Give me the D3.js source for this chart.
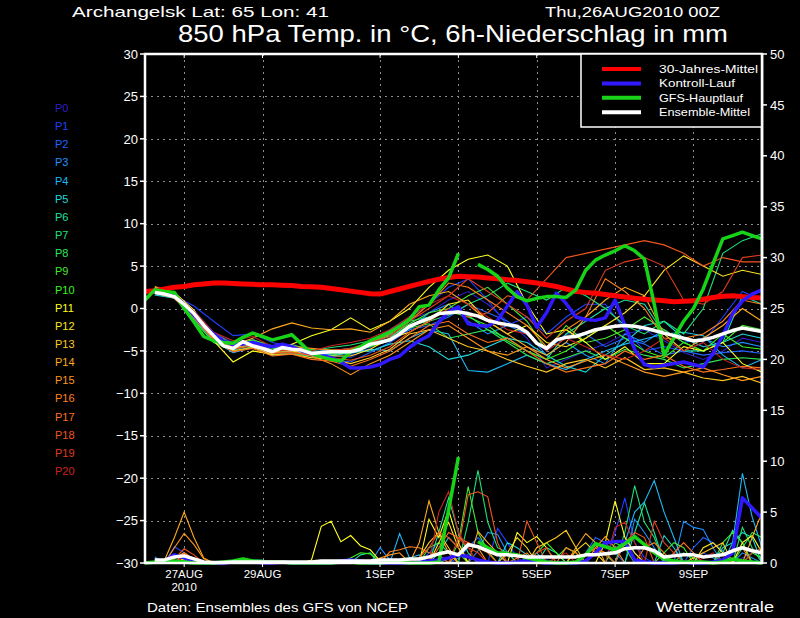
<!DOCTYPE html>
<html>
<head>
<meta charset="utf-8">
<script src="https://cdn.jsdelivr.net/npm/d3@7"></script>
<style>
body { margin: 0; background: #000; }
svg { display: block; background: #000; font-family: "Liberation Sans", Arial, sans-serif; }
</style>
</head>
<body>
<div id="chart"></div>
<script>
// forecast hours after 26AUG2010 00Z
var hoursOp = d3.range(0, 379, 6),   // 0..378 every 6h
    hours6 = d3.range(6, 379, 6),    // 6..378 every 6h
    hours12 = d3.range(6, 379, 12);  // 6..378 every 12h

var tickHours = [24, 72, 144, 192, 240, 288, 336],
    tickLabels = ["27AUG", "29AUG", "1SEP", "3SEP", "5SEP", "7SEP", "9SEP"];
var tempTicks = [30, 25, 20, 15, 10, 5, 0, -5, -10, -15, -20, -25, -30],
    rainTicks = [50, 45, 40, 35, 30, 25, 20, 15, 10, 5, 0];

// 30-Jahres-Mittel (from 0h, 6h steps)
var climTemp = [2.0,2.1,2.3,2.5, 2.6,2.8,2.9,3.0, 3.0,2.95,2.9,2.85, 2.8,2.8,2.75,2.7,
  2.6,2.55,2.5,2.35, 2.2,2.05,1.9,1.75, 1.7,2.0,2.3,2.6, 2.9,3.2,3.45,3.65,
  3.8,3.75,3.7,3.6, 3.5,3.4,3.3,3.15, 3.0,2.8,2.6,2.3, 2.0,1.9,1.8,1.65,
  1.5,1.35,1.2,1.1, 1.0,0.9,0.8,0.85, 0.9,1.1,1.3,1.45, 1.5,1.4,1.3,1.25];

// GFS-Hauptlauf (from 0h, 6h steps)
var gfsTemp = [1.0,2.2,2.0,1.9, 0.0,-1.6,-3.3,-3.8, -4.0,-4.1,-3.4,-2.9, -3.3,-3.7,-3.4,-3.1,
  -4.2,-5.3,-5.7,-6.0, -6.2,-5.1,-4.5,-3.8, -3.3,-2.8,-2.1,-1.3, 0.2,0.4,2.2,3.6,
  6.5,null,5.2,4.6, 3.8,2.4,1.4,0.9, 1.2,1.4,1.4,1.3, 2.2,4.5,5.7,6.3,
  6.8,7.4,6.8,5.8, 0.5,-5.5,-3.5,-1.5, 0.0,2.3,5.3,8.2, 8.6,9.0,8.6,8.2];
var gfsRain = [0,0.1,0.2,0.2, 0.1,0,0,0, 0.1,0.2,0.4,0.2, 0.1,0.1,0.1,0,
  0,0,0,0, 0.1,0.1,0,0, 0,0.1,0.1,0, 0,0,0.1,5.2,
  10.4,null,2.1,1.5, 1.0,0.9,0.8,0.5, 0.3,0.1,0,0, 0.1,0.8,1.9,1.6,
  1.3,1.9,2.6,1.8, 1.0,0.4,0.2,0.1, 0.1,0.1,0,0.1, 0.4,0.2,0.1,0];

// Kontroll-Lauf (from 6h, 6h steps)
var ctrlTemp = [2.0,1.8,1.5,0.5, -0.8,-2.0,-3.0,-3.8, -4.3,-4.2,-4.0,-4.3, -4.5,-4.2,-4.5,-5.0,
  -5.3,-5.5,-5.8,-6.3, -7.0,-7.0,-6.9,-6.6, -6.0,-5.6,-4.6,-3.8, -3.2,-1.6,-0.4,0.2,
  -1.8,-2.0,-2.1,-1.4, 0.3,2.0,0.4,-2.2, -0.5,1.8,0.6,-1.0, -1.3,-1.4,-1.1,1.0,
  -2.0,-4.8,-6.6,-6.9, -6.7,-6.5,-6.3,-6.6, -6.9,-5.3,-3.2,-0.6, 0.9,1.7,2.2];
var ctrlRain = [0.1,0.2,0.8,0.5, 0.1,0,0,0, 0.1,0.2,0.1,0, 0,0.1,0,0,
  0,0,0,0.2, 0.3,0.2,0,0, 0,0,0,0.1, 0.2,0.3,0.5,0.8,
  0.6,0.3,0.1,0, 0,0.1,0.2,0.1, 0,0,0,0, 0.2,1.0,2.0,2.1,
  2.1,0.3,0.1,0, 0,0,0.1,0, 0,0.1,0.3,1.0, 6.4,5.4,4.4];

// Ensemble-Mittel (from 6h, 6h steps)
var meanTemp = [1.9,1.7,1.4,0.5, -0.6,-2.0,-3.2,-4.4, -4.7,-3.9,-4.4,-4.7, -5.1,-4.6,-4.8,-4.9,
  -5.3,-5.2,-5.1,-5.1, -5.1,-4.8,-4.2,-4.0, -3.7,-3.0,-2.1,-1.6, -1.2,-0.6,-0.5,-0.4,
  -0.6,-0.9,-1.4,-1.7, -1.9,-2.1,-2.8,-4.1, -4.7,-3.7,-3.4,-3.3, -2.9,-2.5,-2.3,-2.1,
  -2.0,-2.1,-2.3,-2.6, -2.9,-3.2,-3.5,-3.8, -3.7,-3.4,-3.0,-2.6, -2.3,-2.5,-2.7];
var meanRain = [0.3,0.3,0.6,0.7, 0.4,0.1,0.05,0.05, 0.1,0.1,0.1,0.1, 0.1,0.1,0.1,0.1,
  0.1,0.2,0.2,0.2, 0.2,0.2,0.2,0.3, 0.3,0.3,0.4,0.4, 0.6,0.9,1.1,0.8,
  1.8,1.6,1.2,0.8, 0.8,0.7,0.6,0.6, 0.6,0.6,0.6,0.6, 0.8,0.8,0.9,1.0,
  1.4,1.5,1.5,1.2, 0.6,0.7,0.8,0.8, 0.6,0.7,0.8,1.2, 1.5,1.2,1.0];

// ensemble members: temperature every 12h from 6h
var tP0 = [2.2,1.8,-0.2,-2.8,-4.0,-3.6,-4.6,-4.2,-5.0,-5.5,-5.8,-4.6,-3.0,-1.2,-0.5,1.0,
  2.0,0.5,-1.5,-3.5,-7.0,-6.0,-5.0,-4.2,-3.0,-2.5,-3.8,-5.2,-6.0,-5.0,-3.5,-4.0];
var tP1 = [2.0,1.5,0.3,-1.5,-3.2,-3.0,-4.0,-4.5,-5.5,-5.0,-5.5,-4.0,-2.5,-1.0,0.5,2.5,
  3.5,1.0,-2.0,-1.0,-3.0,-1.0,0.5,0.5,-2.5,-5.0,-4.5,-5.0,-4.0,-1.0,2.0,1.0];
var tP2 = [1.8,1.2,-0.8,-3.5,-4.8,-4.3,-5.3,-5.0,-5.5,-6.0,-6.3,-5.2,-4.0,-2.5,-2.0,-1.0,
  0.5,-0.5,-1.5,-3.0,-5.0,-3.0,-3.0,-4.5,-3.5,-4.2,-5.5,-5.0,-5.5,-5.2,-5.0,-5.3];
var tP3 = [2.4,1.7,-0.5,-3.0,-4.4,-3.8,-4.6,-4.6,-4.8,-5.0,-4.7,-4.5,-3.0,-2.5,-0.5,0.5,
  -1.5,-3.0,-2.0,-3.0,-5.5,-4.0,-5.5,-6.5,-3.0,-4.0,-2.5,-4.0,-3.5,-4.5,-4.0,-4.5];
var tP4 = [1.7,1.3,-1.2,-3.8,-5.2,-4.6,-5.5,-5.3,-5.6,-5.4,-5.2,-4.8,-5.0,-3.5,-2.5,-3.0,
  -7.3,-7.5,-6.5,-5.5,-6.5,-7.2,-6.0,-5.0,-4.2,-3.6,-3.0,-2.8,-3.2,-5.5,-7.0,-6.0];
var tP5 = [1.6,1.2,-0.9,-3.6,-4.9,-4.2,-5.0,-5.0,-5.3,-5.6,-5.2,-5.0,-4.2,-3.8,-4.5,-6.0,
  -5.5,-4.5,-3.5,-4.0,-5.5,-6.8,-7.5,-5.5,-4.0,-2.0,-1.5,-3.5,-4.5,-4.0,-3.0,-3.5];
var tP6 = [2.1,1.5,-0.4,-3.1,-4.6,-4.0,-4.9,-4.7,-5.4,-5.0,-4.8,-4.2,-3.5,-1.5,-1.0,-0.5,
  -0.8,-2.5,-3.5,-5.0,-6.0,-3.0,-1.5,0.0,1.0,0.5,-3.0,-5.0,-5.0,-4.0,1.5,0.5];
var tP7 = [2.3,1.6,-0.6,-3.3,-4.5,-4.2,-5.1,-4.8,-5.0,-4.6,-4.3,-3.8,-3.3,-2.0,-1.5,-0.8,
  0.5,1.5,3.0,2.0,1.0,2.5,1.5,0.0,-2.0,-3.0,-1.5,-3.0,0.0,6.5,8.0,8.8];
var tP8 = [2.0,1.3,-1.4,-4.0,-5.0,-4.5,-5.5,-5.2,-5.8,-5.5,-5.1,-4.5,-3.8,-2.3,-1.8,-3.5,
  -3.0,-2.5,-4.0,-5.5,-6.5,-5.8,-5.0,-6.0,-4.8,-5.5,-6.0,-7.0,-6.5,-6.0,-5.8,-6.0];
var tP9 = [1.9,1.4,-0.7,-3.4,-4.3,-3.9,-4.7,-4.9,-5.1,-5.3,-4.9,-4.1,-3.2,-1.8,-0.5,0.0,
  1.5,2.5,0.5,-1.5,-5.0,-2.0,-4.0,-3.5,-2.5,-1.0,-2.5,-4.0,-5.0,-4.0,-2.0,-2.5];
var tP10 = [2.2,1.6,-0.3,-2.9,-4.2,-3.7,-4.4,-4.3,-4.8,-4.9,-5.0,-4.4,-3.7,-2.2,-1.0,-0.3,
  -1.0,-2.0,-3.8,-5.0,-6.0,-5.0,-3.5,-2.0,-3.5,-5.0,-5.8,-4.0,-5.0,-3.0,-4.5,-4.8];
var tP11 = [2.5,1.9,-0.2,-3.8,-6.3,-5.0,-5.4,-4.2,-3.2,-2.5,-1.1,-2.5,-1.5,0.0,2.5,4.5,
  5.8,6.3,5.0,0.5,-3.0,-2.5,-4.0,-6.0,-4.5,-6.5,-6.5,-4.5,-5.0,-4.0,-6.5,-7.5];
var tP12 = [2.0,1.5,-0.8,-3.4,-4.6,-4.1,-5.0,-5.0,-5.4,-5.6,-5.6,-4.8,-3.5,-2.8,-1.5,0.5,
  1.0,-1.5,-3.0,-2.0,-4.0,-4.5,-3.5,-2.0,-0.5,1.5,4.5,6.2,5.0,3.8,4.5,4.0];
var tP13 = [1.8,1.3,-1.0,-3.6,-5.0,-4.6,-5.4,-5.4,-5.8,-6.0,-6.5,-5.8,-4.8,-3.0,-2.5,-3.5,
  -4.5,-5.0,-6.0,-6.8,-7.5,-6.5,-6.0,-7.0,-5.8,-7.2,-7.0,-7.5,-8.2,-8.5,-8.0,-8.8];
var tP14 = [2.6,1.8,-0.5,-3.0,-4.3,-3.5,-2.4,-1.7,-2.3,-2.5,-2.4,-2.8,-1.5,0.5,1.5,2.0,
  0.5,-1.5,-3.0,-4.5,-5.5,-4.0,-1.0,1.0,2.5,1.5,-3.0,-5.0,-3.5,-2.0,0.0,-1.5];
var tP15 = [2.1,1.5,-0.7,-3.3,-4.7,-4.2,-5.2,-5.1,-5.6,-6.5,-7.8,-6.5,-5.5,-4.0,-2.5,-2.0,
  -3.5,-5.0,-5.5,-4.5,-6.0,-7.0,-6.2,-5.5,-6.5,-7.5,-8.0,-7.5,-7.0,-7.8,-8.5,-8.0];
var tP16 = [2.3,1.7,-0.4,-3.1,-4.4,-4.0,-5.0,-4.5,-4.7,-4.9,-4.8,-4.0,-3.0,-1.5,0.5,3.0,
  2.5,1.0,-0.5,-2.0,-4.5,-2.5,-1.0,3.5,2.0,0.0,-3.5,-3.5,-3.0,-1.5,1.0,0.5];
var tP17 = [1.9,1.2,-1.1,-3.7,-5.1,-4.7,-5.6,-5.4,-6.0,-6.2,-6.8,-6.0,-5.0,-3.5,-2.0,-1.5,
  -3.0,-4.0,-3.5,-5.0,-6.5,-7.5,-7.0,-6.5,-5.0,-6.0,-5.5,-6.8,-7.5,-7.2,-6.8,-7.0];
var tP18 = [2.0,1.4,-0.9,-3.5,-4.8,-4.4,-5.3,-5.2,-5.5,-5.8,-6.1,-5.5,-4.5,-2.8,-1.5,0.0,
  -1.0,-0.5,1.5,1.0,3.5,6.0,6.5,7.0,7.5,8.0,7.5,6.5,5.0,6.0,5.5,5.5];
var tP19 = [2.2,1.6,-0.6,-3.2,-4.5,-4.1,-5.0,-4.9,-5.2,-5.0,-4.7,-4.0,-3.3,-1.5,0.0,1.5,
  3.5,2.0,0.5,-1.0,-3.5,-1.5,0.0,4.5,5.5,6.0,5.0,1.0,0.5,2.0,6.0,6.3];
var tP20 = [2.4,1.7,-0.3,-2.8,-3.8,-3.3,-4.5,-4.5,-5.0,-4.4,-4.0,-3.5,-2.5,-1.0,0.5,1.5,
  0.5,-1.0,-2.5,-3.0,-5.0,-3.5,-4.5,-5.5,-6.0,-5.0,-3.5,-5.0,-4.0,-6.0,-7.0,-7.2];

// ensemble members: 6h precipitation from 6h
var rP0 = [0.2,0,0.5,0.8,0.3,0,0,0,0,0,0,0,0,0,0,0,
  0,0,0,0,0,0,0,0,0,0,0,0,0,0,0.5,1.0,
  0.8,0,0,0,0,0,0,0,0.3,0,0,0,0,0,0,1.5,
  2.0,1.0,0,0,0,0,0,0,0,0,0,0,0.5,1.0,0.5];
var rP1 = [0.5,0,1.6,1.0,0.2,0,0,0,0,0,0,0,0,0,0,0,
  0,0,0,0,0,0,0,0,0,0,0,0,1.0,2.0,1.0,0,
  0,0,0,3.4,2.0,0.5,0,0,0,0,0,0,0,0,0,3.0,
  6.4,2.0,0.5,0,0,0,0,0,1.0,0.5,0,0,0,0,0];
var rP2 = [0,0.2,0,0.5,0,0,0,0,0,0,0,0,0,0,0,0,
  0,0,0,0,0,0.3,0.2,0,0,0,0,0,0,0,0,0.5,
  1.5,2.5,1.5,0.8,0,0,0,0,0,0,0,0,1.0,2.5,2.0,1.0,
  0,0,0,0,0,0,0,1.5,2.5,2.0,1.2,0,0,0,0];
var rP3 = [0.6,0,0,0.8,0,0,0,0,0,0,0,0,0,0,0,0,
  0,0,0,0,0,0,0,1.5,0.3,0,0,0,0,0,0,0,
  0,1.2,3.0,2.8,1.0,0,0,0,0,0,0,0,0,0,0,0,
  0,4.3,3.0,1.5,0,0,4.1,3.5,3.3,1.5,0,0,1.0,0.5,0];
var rP4 = [0,0,0,0.6,0,0,0,0,0,0,0,0,0,0,0,0,
  0,0,0,0,0,0,0,0,0,2.9,0.5,0.8,0,0,0,0,
  0,0,0,0,0,0,0.5,1.0,0,0,0,0,0,0,0,0,
  2.0,5.0,6.0,8.1,5.0,2.5,0,0,0,0,0,2.0,8.8,4.5,1.5];
var rP5 = [0.4,0,0,0.4,0,0,0,0,0,0,0,0,0,0,0,0,
  0,0,0,0,0,0,0,0,0,0,0,0,0,1.0,2.5,1.5,
  0,0,0,0,2.0,1.5,0.8,0,0,0,0,0,0,0,0,0,
  0,0,0,0,2.7,1.5,0,0,0,0,1.5,2.0,3.0,2.5,0];
var rP6 = [0,0,0,0.3,0,0,0,0,0,0,0,0,0,0,0,0,
  0,0,0,0,0,0.8,1.0,0,0,0,0,0,0,3.0,6.4,3.0,
  1.0,0,0,0,0,0,0,0,1.5,1.0,0,0,0,0,0,0,
  0,3.0,5.9,3.0,0,0,0,0,0,0,1.0,3.2,2.0,0,0];
var rP7 = [0,0,0,0,0,0,0,0,0,0.2,0.3,0.3,0,0,0,0,
  0,0,0,0,0,0,0,0,0,0,0,0,0,0,0,0,
  4.0,9.1,4.0,1.5,1.0,0,0,0,0,0,0,0,0,0,0,0,
  3.0,7.6,4.0,2.5,0,0,0,0,0,0,0,0,3.5,1.5,0];
var rP8 = [0,0,0,0.3,0,0,0,0,0,0,0,0,0.2,0,0,0,
  0,0,0,0,0,0,0,0,0,0,0,0,1.5,2.0,1.0,0,
  0,0,0,0,0,0,0,0,0,0.5,1.5,1.0,0,0,0,0,
  0,0,0,0,0,0,1.0,0.5,0,0,0,0,1.5,3.0,2.5];
var rP9 = [0,0,0,0.5,0,0,0,0,0,0,0,0,0,0,0,0,
  0,0,0,0,0,0,0,0,0,0,0,0,0,0,0,2.0,
  7.5,3.0,1.2,0,0,0,0,0,0,0,0,0,0,1.0,0.8,0,
  0,0,0,0,1.0,2.0,1.5,0,0,0,2.0,3.0,2.0,0,0];
var rP10 = [0,0,0,0.2,0,0,0,0,0,0,0,0,0,0,0,0,
  0,0,0,0,0.5,1.0,0.9,0,0,0,0,0,0,0,0.5,1.0,
  0,0,0,0,0,0,0,1.0,2.0,1.0,0,0,0,0,0,2.0,
  1.5,0,0,0,0,0,0,0,0,0,0,0,0,1.0,0.5];
var rP11 = [0,0,0,0.4,0,0,0,0,0,0,0,0,0,0,0,0,
  0.3,3.6,4.1,2.1,2.7,1.7,1.3,0.2,0,0,0,0,4.3,2.5,5.2,2.0,
  0,0,0,0,0,3.0,2.0,2.6,1.5,0,0,0,0,0,2.0,6.1,
  2.5,1.0,0,0,0,0,0,0,0,0,0,0,2.0,2.7,1.0];
var rP12 = [0,0,0.5,1.0,0.3,0,0,0,0,0,0,0.1,0,0,0,0,
  0,0,0,0,0,0,0,0,0,0,0,0,0,2.0,4.0,1.5,
  0,0,0,0,1.0,2.5,1.5,0,0,0,0,1.2,2.0,1.0,0,0,
  0,0,0,0,0,0,0,0,1.5,2.0,1.0,0,0,0,0];
var rP13 = [0,0,0,0.5,0,0,0,0,0,0,0,0,0,0,0,0,
  0,0,0,0,0,0,0,0,0,0,0.3,0.5,2.0,3.0,1.5,0,
  0,0,0,0,0,0,0,1.5,2.0,2.5,3.2,1.5,0,0,0,0,
  0,0,0,0,0,0,0,0.5,1.0,1.5,2.0,0,0,0,0];
var rP14 = [0,0.3,2.5,5.0,2.5,0.5,0,0,0,0,0,0,0,0,0,0,
  0,0,0,0,0,0,0,0,0,0,0,2.0,6.1,3.0,1.0,0,
  0,3.1,2.0,1.0,0,0,0,0,0,0,0,1.5,2.9,2.0,0,0,
  0,0,0,0,0,0,0,0,0,0,0,0,0,2.5,5.0];
var rP15 = [0,0,1.5,2.9,1.8,0.4,0,0,0,0,0,0,0,0,0,0,
  0,0,0,0,0,0,0,0.5,0.8,1.0,0,0,0,0,0,1.0,
  2.0,1.5,0,0,0,0,0,0,0,0,0,0,0,1.5,2.6,1.5,
  0,0,0,0,0,0,0,0,0,0,0,1.0,1.5,0,0];
var rP16 = [0,0,0,0.6,0,0,0,0,0,0,0,0,0,0,0,0,
  0,0,0,0,0,0,0,0,1.1,1.3,1.6,1.5,1.0,0.8,0,0,
  0,0,0,0,0,0.5,1.0,0,0,0,1.5,1.0,0,0,0,0,
  0,0,1.5,2.0,1.0,0,0,0,0,0,0,0,0,0,0];
var rP17 = [0,0,0,1.0,0.4,0,0,0,0,0,0,0,0,0,0,0,
  0,0,0,0,0,0,0,0,0,0,0,0,0,1.5,3.0,2.5,
  2.0,1.5,1.0,0,0,0,0,0,0,0,0,0,0.8,1.5,1.0,0,
  0,0,0,0,0,1.0,2.0,1.0,0,0,0,0,0,0,0];
var rP18 = [0,0,0.4,1.4,0.8,0,0,0,0,0,0,0,0,0,0,0,
  0,0,0,0,0,0,0,0,0,0,0,0.5,1.5,3.0,2.5,1.5,
  6.7,7.0,6.5,2.0,0,0,4.1,2.0,0,0,0,0,0,0,0,0,
  2.0,3.0,2.5,0,0,0,0,0,0,0,0,0,0,0,0];
var rP19 = [0,0,0,0.8,0.5,0,0,0,0,0,0,0,0,0,0,0,
  0,0,0,0,0,0,0,0,0,0,0,0,0,0,0,2.5,
  1.5,1.0,0,0,0,0,0,1.0,1.5,0,0,0,0,0,0,0,
  0,0,0,4.1,2.0,1.0,0,0,0,0,0,0,0,1.0,1.5];
var rP20 = [0,0,0,0.6,0,0,0,0,0,0,0,0,0,0,0,0,
  0,0,0,0,0,0,0,0,0,0,0,0,0,5.0,7.0,3.0,
  1.5,0,0,0,0,0,0,0,0,0.5,1.0,0,0,0,0,3.5,
  4.0,2.0,0,0,0,0,0,0,0.5,1.0,0,0,0,0,0];

var memberNames = ["P0","P1","P2","P3","P4","P5","P6","P7","P8","P9","P10",
  "P11","P12","P13","P14","P15","P16","P17","P18","P19","P20"];
var memberColors = ["#2d1ec8","#1f40ff","#1f64ff","#1e90ff","#1eb8f5","#1ed8dc","#1ee0a0",
  "#1ee078","#2ee650","#44e632","#36f51e","#ffff1e","#ffe41e","#ffc81e","#ffaa1e",
  "#ff961e","#ff821e","#ff701e","#f0561e","#e03c1e","#c8241e"];
var memberTemps = [tP0,tP1,tP2,tP3,tP4,tP5,tP6,tP7,tP8,tP9,tP10,tP11,tP12,tP13,tP14,tP15,tP16,tP17,tP18,tP19,tP20];
var memberRains = [rP0,rP1,rP2,rP3,rP4,rP5,rP6,rP7,rP8,rP9,rP10,rP11,rP12,rP13,rP14,rP15,rP16,rP17,rP18,rP19,rP20];

var legendNames = ["30-Jahres-Mittel", "Kontroll-Lauf", "GFS-Hauptlauf", "Ensemble-Mittel"],
    legendColors = ["#ff0000", "#3018ff", "#18d418", "#ffffff"],
    legendWidths = [99, 76, 84, 91];

var chartW = 800, chartH = 618,
    plotL = 145, plotR = 762, plotT = 54, plotB = 563;

var svg = d3.select("#chart").append("svg")
  .attr("width", chartW)
  .attr("height", chartH);

var x = d3.scaleLinear().domain([0, 378]).range([plotL, plotR]),
    yT = d3.scaleLinear().domain([-30, 30]).range([plotB, plotT]),
    yR = d3.scaleLinear().domain([0, 50]).range([plotB, plotT]);

function path(hours, values, yScale) {
  var pts = hours.map(function(h, i) { return [h, values[i]]; })
    .filter(function(d) { return d[1] !== undefined; });
  return d3.line()
    .defined(function(d) { return d[1] !== null; })
    .x(function(d) { return x(d[0]); })
    .y(function(d) { return yScale(d[1]); })(pts);
}

// grid
var grid = svg.append("g").attr("stroke", "#8c8c8c").attr("stroke-width", 1)
  .attr("stroke-dasharray", "2,4").attr("shape-rendering", "crispEdges");
grid.selectAll("line.h").data(tempTicks.filter(function(t) { return t > -30 && t < 30; }))
  .enter().append("line")
  .attr("x1", plotL).attr("x2", plotR)
  .attr("y1", function(d) { return Math.round(yT(d)) + 0.5; })
  .attr("y2", function(d) { return Math.round(yT(d)) + 0.5; });
grid.selectAll("line.v").data(tickHours)
  .enter().append("line")
  .attr("y1", plotT).attr("y2", plotB)
  .attr("x1", function(d) { return Math.round(x(d)) + 0.5; })
  .attr("x2", function(d) { return Math.round(x(d)) + 0.5; });

// members
var mem = svg.append("g").attr("fill", "none").attr("stroke-width", 1.1);
memberTemps.forEach(function(vals, i) {
  mem.append("path").attr("d", path(hours12, vals, yT)).attr("stroke", memberColors[i]);
});
memberRains.forEach(function(vals, i) {
  mem.append("path").attr("d", path(hours6, vals, yR)).attr("stroke", memberColors[i]);
});

// thick lines
var thick = svg.append("g").attr("fill", "none").attr("stroke-linejoin", "round");
thick.append("path").attr("d", path(hoursOp, climTemp, yT)).attr("stroke", legendColors[0]).attr("stroke-width", 5);
thick.append("path").attr("d", path(hours6, ctrlRain, yR)).attr("stroke", legendColors[1]).attr("stroke-width", 3.5);
thick.append("path").attr("d", path(hours6, ctrlTemp, yT)).attr("stroke", legendColors[1]).attr("stroke-width", 3.5);
thick.append("path").attr("d", path(hoursOp, gfsRain, yR)).attr("stroke", legendColors[2]).attr("stroke-width", 3.5);
thick.append("path").attr("d", path(hoursOp, gfsTemp, yT)).attr("stroke", legendColors[2]).attr("stroke-width", 3.5);
thick.append("path").attr("d", path(hours6, meanRain, yR)).attr("stroke", legendColors[3]).attr("stroke-width", 3.5);
thick.append("path").attr("d", path(hours6, meanTemp, yT)).attr("stroke", legendColors[3]).attr("stroke-width", 3.5);

// frame
svg.append("rect")
  .attr("x", plotL).attr("y", plotT)
  .attr("width", plotR - plotL).attr("height", plotB - plotT)
  .attr("fill", "none").attr("stroke", "#fff").attr("stroke-width", 2.5);

// left axis (temperature)
var la = svg.append("g").attr("fill", "#fff").attr("font-size", 13);
la.selectAll("line").data(tempTicks).enter().append("line")
  .attr("x1", plotL - 5).attr("x2", plotL)
  .attr("y1", function(d) { return yT(d); }).attr("y2", function(d) { return yT(d); })
  .attr("stroke", "#fff").attr("stroke-width", 1.5);
la.selectAll("text").data(tempTicks).enter().append("text")
  .attr("x", plotL - 7).attr("y", function(d) { return yT(d); })
  .attr("dy", "0.36em").attr("text-anchor", "end")
  .text(function(d) { return d < 0 ? "\u2212" + (-d) : d; });

// right axis (precipitation)
var ra = svg.append("g").attr("fill", "#fff").attr("font-size", 13);
ra.selectAll("line").data(rainTicks).enter().append("line")
  .attr("x1", plotR).attr("x2", plotR + 5)
  .attr("y1", function(d) { return yR(d); }).attr("y2", function(d) { return yR(d); })
  .attr("stroke", "#fff").attr("stroke-width", 1.5);
ra.selectAll("text").data(rainTicks).enter().append("text")
  .attr("x", plotR + 8).attr("y", function(d) { return yR(d); })
  .attr("dy", "0.36em")
  .text(function(d) { return d; });

// time axis
var ba = svg.append("g").attr("fill", "#fff").attr("font-size", 11.5);
ba.selectAll("line.t").data(tickHours).enter().append("line")
  .attr("x1", function(d) { return x(d); }).attr("x2", function(d) { return x(d); })
  .attr("y1", plotT).attr("y2", plotT + 4).attr("stroke", "#fff");
ba.selectAll("line.b").data(tickHours).enter().append("line")
  .attr("x1", function(d) { return x(d); }).attr("x2", function(d) { return x(d); })
  .attr("y1", plotB).attr("y2", plotB + 4).attr("stroke", "#fff");
ba.selectAll("text").data(tickHours).enter().append("text")
  .attr("x", function(d) { return x(d); }).attr("y", 578)
  .attr("text-anchor", "middle")
  .text(function(d, i) { return tickLabels[i]; });
ba.append("text").attr("x", x(tickHours[0])).attr("y", 591)
  .attr("text-anchor", "middle").text("2010");

// member labels
svg.append("g").attr("font-size", 11)
  .selectAll("text").data(memberNames).enter().append("text")
  .attr("x", 55).attr("y", function(d, i) { return 112 + i * 18.15; })
  .attr("fill", function(d, i) { return memberColors[i]; })
  .text(function(d) { return d; });

// legend
var lg = svg.append("g");
lg.append("rect").attr("x", 581).attr("y", plotT).attr("width", plotR - 581).attr("height", 73)
  .attr("fill", "#000").attr("stroke", "#fff").attr("stroke-width", 1.5);
legendNames.forEach(function(name, i) {
  var ly = 69 + i * 14.4;
  lg.append("line").attr("x1", 602).attr("x2", 641).attr("y1", ly).attr("y2", ly)
    .attr("stroke", legendColors[i]).attr("stroke-width", 4);
  lg.append("text").attr("x", 659).attr("y", ly + 4).attr("fill", "#fff")
    .attr("font-size", 11.5).attr("textLength", legendWidths[i])
    .attr("lengthAdjust", "spacingAndGlyphs").text(name);
});
// redraw the right frame edge over the legend box
svg.append("line").attr("x1", plotR).attr("x2", plotR).attr("y1", plotT).attr("y2", plotB)
  .attr("stroke", "#fff").attr("stroke-width", 2.5);

// titles
var tt = svg.append("g").attr("fill", "#fff");
tt.append("text").attr("x", 72).attr("y", 17).attr("font-size", 15)
  .attr("textLength", 257).attr("lengthAdjust", "spacingAndGlyphs")
  .text("Archangelsk  Lat: 65 Lon: 41");
tt.append("text").attr("x", 545).attr("y", 17).attr("font-size", 15)
  .attr("textLength", 175).attr("lengthAdjust", "spacingAndGlyphs")
  .text("Thu,26AUG2010 00Z");
tt.append("text").attr("x", 178).attr("y", 42).attr("font-size", 24)
  .attr("textLength", 550).attr("lengthAdjust", "spacingAndGlyphs")
  .text("850 hPa Temp. in \u00B0C, 6h-Niederschlag in mm");
tt.append("text").attr("x", 147).attr("y", 612).attr("font-size", 13)
  .attr("textLength", 261).attr("lengthAdjust", "spacingAndGlyphs")
  .text("Daten: Ensembles des GFS von NCEP");
tt.append("text").attr("x", 656).attr("y", 612).attr("font-size", 15)
  .attr("textLength", 118).attr("lengthAdjust", "spacingAndGlyphs")
  .text("Wetterzentrale");
</script>
</body>
</html>
